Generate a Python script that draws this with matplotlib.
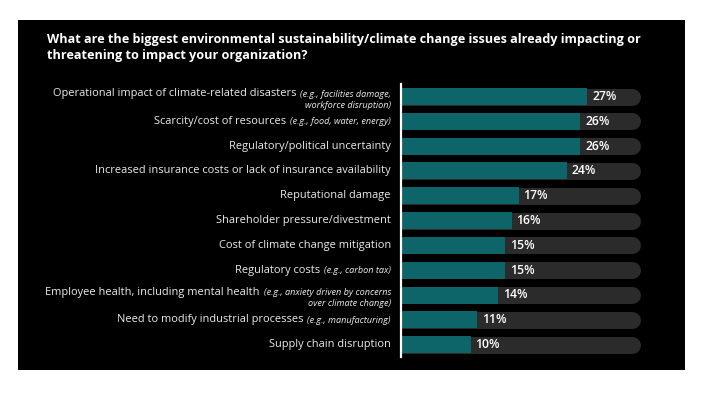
import matplotlib
matplotlib.use("Agg")
import matplotlib.pyplot as plt
from matplotlib.patches import Rectangle
from matplotlib.lines import Line2D

# ---- data ----
categories = [
    "Operational impact of climate-related disasters",
    "Scarcity/cost of resources",
    "Regulatory/political uncertainty",
    "Increased insurance costs or lack of insurance availability",
    "Reputational damage",
    "Shareholder pressure/divestment",
    "Cost of climate change mitigation",
    "Regulatory costs",
    "Employee health, including mental health",
    "Need to modify industrial processes",
    "Supply chain disruption",
]
examples = [
    ["(e.g., facilities damage,", "workforce disruption)"],
    ["(e.g., food, water, energy)"],
    [],
    [],
    [],
    [],
    [],
    ["(e.g., carbon tax)"],
    ["(e.g., anxiety driven by concerns", "over climate change)"],
    ["(e.g., manufacturing)"],
    [],
]
values = [27, 26, 26, 24, 17, 16, 15, 15, 14, 11, 10]
title = ("What are the biggest environmental sustainability/climate change issues already impacting or\n"
         "threatening to impact your organization?")

W, H = 713, 393
DPI = 100
FONT = "Open Sans"
TEAL = "#0e6569"
TRACK = "#2b2b2b"
TXT = "#ececec"

fig = plt.figure(figsize=(W / DPI, H / DPI), dpi=DPI, facecolor="white")

def fx(px):
    return px / W

def fy(py):
    return 1 - py / H

# black panel
fig.patches.append(Rectangle((fx(18), fy(370)), fx(685) - fx(18), fy(20) - fy(370),
                             transform=fig.transFigure, facecolor="black", edgecolor="none", zorder=-5))

# title
fig.text(fx(47), fy(47.5), title, color="white", fontsize=9.07, fontweight="bold",
         family=FONT, ha="left", va="center", linespacing=1.3)

# axes for bars
ax_left, ax_top, ax_bot = 402, 84.2, 357
px_per_pct = 6.86
xmax = 35
ax_right = ax_left + px_per_pct * xmax
ax = fig.add_axes([fx(ax_left), fy(ax_bot), fx(ax_right) - fx(ax_left), fy(ax_top) - fy(ax_bot)])
ax.set_facecolor("none")
ax.set_zorder(2)
ax.set_xlim(0, xmax)
n = len(values)
ax.set_ylim(n - 0.5, -0.5)
for s in ax.spines.values():
    s.set_visible(False)
ax.set_xticks([])
ax.set_yticks([])

row_px = (ax_bot - ax_top) / n
bar_px = 17
bar_h = bar_px / row_px
track_end_px = 640
cap_r = bar_px / 2
track_end = (track_end_px - cap_r - ax_left) / px_per_pct

for i, v in enumerate(values):
    ax.plot([0, track_end], [i, i], color=TRACK, lw=bar_px * 72 / DPI,
            solid_capstyle="round", zorder=1)
ax.barh(range(n), values, height=bar_h, color=TEAL, zorder=2)
for i, v in enumerate(values):
    ax.text(v + 0.7, i, f"{v}%", color="white", fontsize=8.8, fontweight="semibold",
            family=FONT, va="center", ha="left", zorder=3)

# white axis line
fig.add_artist(Line2D([fx(401), fx(401)], [fy(84), fy(357)], color="white", lw=1.6,
                      transform=fig.transFigure, zorder=5))

# labels
fig.canvas.draw()
renderer = fig.canvas.get_renderer()
label_right = 391
MAIN_FS = 7.95
EX_FS = 6.6
for i, (cat, ex) in enumerate(zip(categories, examples)):
    yc = ax_top + row_px * (i + 0.5)
    if not ex:
        fig.text(fx(label_right), fy(yc), cat, color=TXT, fontsize=MAIN_FS, family=FONT,
                 ha="right", va="center")
        continue
    y1 = yc - 3 if len(ex) > 1 else yc
    t1 = fig.text(fx(label_right), fy(y1 + 0.5), ex[0], color=TXT, fontsize=EX_FS, family=FONT,
                  style="italic", ha="right", va="center")
    if len(ex) > 1:
        fig.text(fx(label_right), fy(y1 + 12), ex[1], color=TXT, fontsize=EX_FS, family=FONT,
                 style="italic", ha="right", va="center")
    bb = t1.get_window_extent(renderer)
    left_px = bb.x0
    fig.text(left_px / W - fx(4), fy(y1), cat, color=TXT, fontsize=MAIN_FS, family=FONT,
             ha="right", va="center")

fig.savefig("out.png", dpi=DPI, facecolor="white")
